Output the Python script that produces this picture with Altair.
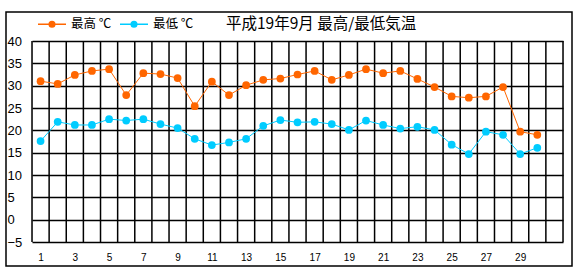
import altair as alt
import pandas as pd

days = list(range(1, 31))
max_temp = [31.0, 30.4, 32.4, 33.3, 33.7, 27.9, 32.8, 32.6, 31.7, 25.4,
            30.9, 27.9, 30.1, 31.3, 31.6, 32.5, 33.3, 31.3, 32.4, 33.7,
            32.8, 33.3, 31.5, 29.7, 27.6, 27.3, 27.6, 29.7, 19.7, 19.0]
min_temp = [17.6, 21.9, 21.2, 21.2, 22.5, 22.2, 22.5, 21.4, 20.5, 18.1,
            16.7, 17.3, 18.1, 21.0, 22.3, 21.8, 21.9, 21.4, 20.1, 22.2,
            21.2, 20.4, 20.8, 20.1, 16.8, 14.7, 19.7, 19.0, 14.7, 16.1]
series_names = ["最高 ℃", "最低 ℃"]
series_colors = ["#FF6600", "#00CCFF"]
y_ticks = list(range(-5, 41, 5))
x_labels = list(range(1, 30, 2))
column_edges = [i + 0.5 for i in range(0, 32)]
title_text = "平成19年9月 最高/最低気温"

df = pd.DataFrame({
    "day": days * 2,
    "temp": max_temp + min_temp,
    "series": [series_names[0]] * len(days) + [series_names[1]] * len(days),
})
edges = pd.DataFrame({"edge": column_edges})

W, H = 531, 201
xscale = alt.Scale(domain=[0.5, 31.5], nice=False, zero=False)
yscale = alt.Scale(domain=[-5, 40], nice=False, zero=False)
cscale = alt.Scale(domain=series_names, range=series_colors)

legend_path = ("M-1,0L1,0M-0.2,0A0.2,0.2,0,1,1,0.2,0"
               "A0.2,0.2,0,1,1,-0.2,0Z")

legend = alt.Legend(
    title=None, orient="none", legendX=5, legendY=-32,
    direction="horizontal", columns=2,
    symbolType=legend_path, symbolSize=784,
    symbolStrokeWidth=1.5, symbolOpacity=1,
    labelFontSize=12.5, labelFont="Noto Sans CJK JP",
    labelColor="black", labelOffset=4, columnPadding=5,
    padding=0,
)

x_axis = alt.Axis(values=x_labels, grid=False, domain=False, ticks=False,
                  labelFontSize=10, labelFont="Liberation Sans",
                  labelPadding=10, labelColor="black", labelFlush=False)

frame = alt.Chart(pd.DataFrame({"k": [0]})).mark_rect(
    fillOpacity=0, stroke="black", strokeWidth=1.5
).encode(x=alt.value(-26), x2=alt.value(540), y=alt.value(-29), y2=alt.value(225))

title = alt.Chart(pd.DataFrame({"k": [0]})).mark_text(
    align="left", baseline="middle", fontSize=15.5, font="Noto Sans CJK JP",
    color="black"
).encode(x=alt.value(194), y=alt.value(-17), text=alt.value(title_text))

vrules = alt.Chart(edges).mark_rule(color="black", strokeWidth=1.5).encode(
    x=alt.X("edge:Q", scale=xscale, title=None, axis=x_axis)
)

base = alt.Chart(df).encode(
    x=alt.X("day:Q", scale=xscale, title=None, axis=x_axis),
    y=alt.Y("temp:Q", scale=yscale, title=None,
            axis=alt.Axis(values=y_ticks, grid=True, gridColor="black",
                          gridWidth=1.5, gridOpacity=1, domain=False, ticks=False,
                          labelAlign="left", labelPadding=25, labelBaseline="middle",
                          labelFontSize=13, labelFont="Liberation Sans",
                          labelColor="black", labelFlush=False)),
)

lines = base.mark_line(strokeWidth=1).encode(
    stroke=alt.Stroke("series:N", scale=cscale, legend=legend),
    detail="series:N",
)

points = base.mark_point(filled=True, size=60, opacity=1, strokeWidth=0.01).encode(
    fill=alt.Fill("series:N", scale=cscale, legend=legend),
    stroke=alt.Stroke("series:N", scale=cscale, legend=legend),
)

chart = alt.layer(frame, title, vrules, lines, points).properties(
    width=W, height=H,
    padding={"left": 32, "top": 41, "right": 17, "bottom": 39},
    autosize=alt.AutoSizeParams(type="none"),
).configure_view(stroke=None).configure(background="white")

chart.save("out.html", embed_options={"renderer": "svg", "actions": False})
